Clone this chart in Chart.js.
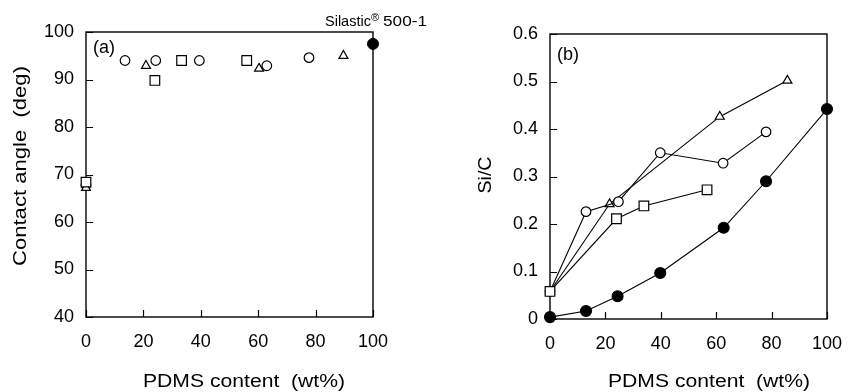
<!DOCTYPE html>
<html>
<head>
<meta charset="utf-8">
<script src="https://cdn.jsdelivr.net/npm/chart.js@4.4.1/dist/chart.umd.min.js"></script>
<style>
  body { margin: 0; background: #fff; }
  #wrap { position: relative; width: 856px; height: 392px; }
  canvas { position: absolute; top: 0; }
  #chartA { left: 0; }
  #chartB { left: 440px; }
</style>
</head>
<body>
<div id="wrap">
  <canvas id="chartA" width="440" height="392"></canvas>
  <canvas id="chartB" width="416" height="392"></canvas>
</div>
<script>
// (a) contact angle vs PDMS content
const circleXA = [0, 13.6, 24.3, 39.5, 63, 77.7];
const circleYA = [67.8, 94, 94, 94, 92.9, 94.6];
const triXA = [0, 20.9, 60.3, 89.7];
const triYA = [67.2, 92.9, 92.3, 95];
const squareXA = [0, 24, 33.3, 56];
const squareYA = [68.4, 89.8, 94, 94];
const silasticXA = [100];
const silasticYA = [97.5];

// (b) Si/C vs PDMS content
const triXB = [0, 21.5, 61.3, 85.7];
const triYB = [0.058, 0.242, 0.426, 0.502];
const circleXB = [0, 13, 24.7, 39.8, 62.5, 78];
const circleYB = [0.058, 0.226, 0.247, 0.35, 0.328, 0.394];
const squareXB = [0, 24, 33.9, 56.7];
const squareYB = [0.058, 0.211, 0.238, 0.272];
const silasticXB = [0, 13, 24.4, 39.8, 62.7, 78, 100];
const silasticYB = [0.004, 0.017, 0.048, 0.097, 0.192, 0.29, 0.442];

const FONT = "'Liberation Sans', Arial, sans-serif";

const pts = (xs, ys) => xs.map((x, i) => ({ x: x, y: ys[i] }));

// box round the plot plus short inward ticks
const frameAndTicks = {
  id: 'frameAndTicks',
  beforeDatasetsDraw(chart) {
    const { ctx, chartArea: a, scales: { x, y } } = chart;
    ctx.save();
    ctx.strokeStyle = '#000';
    ctx.lineWidth = 1.4;
    ctx.strokeRect(a.left, a.top, a.right - a.left, a.bottom - a.top);
    ctx.lineWidth = 1.2;
    ctx.beginPath();
    y.ticks.forEach(t => {
      const py = Math.round(y.getPixelForValue(t.value)) + 0.5;
      ctx.moveTo(a.left, py); ctx.lineTo(a.left + 7, py);
    });
    x.ticks.forEach(t => {
      const px = Math.round(x.getPixelForValue(t.value)) + 0.5;
      ctx.moveTo(px, a.bottom); ctx.lineTo(px, a.bottom - 7);
    });
    ctx.stroke();
    ctx.restore();
  }
};

function drawText(ctx, text, x, y, size, width, angle, align) {
  ctx.save();
  ctx.translate(x, y);
  if (angle) ctx.rotate(angle);
  ctx.font = size + 'px ' + FONT;
  ctx.textAlign = align || 'left';
  ctx.textBaseline = 'alphabetic';
  ctx.fillStyle = '#000';
  const w = ctx.measureText(text).width;
  if (width) ctx.scale(width / w, 1);
  ctx.fillText(text, 0, 0);
  ctx.restore();
}

// titles and labels, positioned per panel
const panelText = {
  id: 'panelText',
  afterDraw(chart, args, o) {
    const ctx = chart.ctx;
    drawText(ctx, o.letter, o.letterX, o.letterY, 18);
    drawText(ctx, o.xTitle, o.xTitleX, 387, 18, o.xTitleW, 0, 'center');
    drawText(ctx, o.yTitle, o.yTitleX, o.yTitleY, 18, o.yTitleW, -Math.PI / 2, 'center');
    if (o.note) {
      drawText(ctx, 'Silastic', 325, 26, 14.5);
      drawText(ctx, '\u00AE', 371, 21, 11);
      drawText(ctx, '500-1', 383, 26, 15.5, 44);
    }
  }
};

const openPoint = (style, r) => ({
  pointStyle: style,
  pointRadius: r,
  pointBackgroundColor: '#fff',
  pointBorderColor: '#000',
  pointBorderWidth: 1.2
});

function makeOptions(yMin, yMax, yStep, yWidth, top, right, text) {
  return {
    responsive: false,
    animation: false,
    layout: { padding: { left: 0, right: right, top: top, bottom: 0 } },
    scales: {
      x: {
        type: 'linear', position: 'bottom', min: 0, max: 100,
        grid: { display: false, drawTicks: false },
        border: { display: false },
        ticks: { stepSize: 20, padding: 14, color: '#000', font: { family: FONT, size: 18 } },
        afterFit(scale) { scale.height = 392 - 317 - (top - 32); }
      },
      y: {
        type: 'linear', position: 'left', min: yMin, max: yMax,
        grid: { display: false, drawTicks: false },
        border: { display: false },
        ticks: { stepSize: yStep, padding: 12, color: '#000', font: { family: FONT, size: 18 } },
        afterFit(scale) { scale.width = yWidth; }
      }
    },
    plugins: {
      legend: { display: false },
      tooltip: { enabled: false },
      panelText: text
    }
  };
}

new Chart(document.getElementById('chartA'), {
  type: 'scatter',
  data: {
    datasets: [
      Object.assign({ data: pts(squareXA, squareYA), clip: false }, openPoint('rect', 6.8)),
      Object.assign({ data: pts(triXA, triYA), clip: false }, openPoint('triangle', 5.2)),
      Object.assign({ data: pts(circleXA, circleYA), clip: false }, openPoint('circle', 4.8)),
      { data: pts(silasticXA, silasticYA), clip: false, pointRadius: 5.5,
        pointBackgroundColor: '#000', pointBorderColor: '#000' }
    ]
  },
  options: makeOptions(40, 100, 10, 86, 32, 440 - 373, {
    letter: '(a)', letterX: 93, letterY: 53,
    xTitle: 'PDMS content  (wt%)', xTitleX: 244, xTitleW: 202,
    yTitle: 'Contact angle  (deg)', yTitleX: 26, yTitleY: 166, yTitleW: 200,
    note: true
  }),
  plugins: [frameAndTicks, panelText]
});

const lined = { showLine: true, borderColor: '#000', borderWidth: 1.1, clip: false };

new Chart(document.getElementById('chartB'), {
  type: 'scatter',
  data: {
    datasets: [
      Object.assign({ data: pts(silasticXB, silasticYB) }, lined,
        { pointRadius: 5.5, pointBackgroundColor: '#000', pointBorderColor: '#000' }),
      Object.assign({ data: pts(squareXB, squareYB) }, lined, openPoint('rect', 6.8)),
      Object.assign({ data: pts(circleXB, circleYB) }, lined, openPoint('circle', 4.8)),
      Object.assign({ data: pts(triXB, triYB) }, lined, openPoint('triangle', 5.2))
    ]
  },
  options: makeOptions(0, 0.6, 0.1, 110, 34, 416 - 397, {
    letter: '(b)', letterX: 117, letterY: 60,
    xTitle: 'PDMS content  (wt%)', xTitleX: 269, xTitleW: 202,
    yTitle: 'Si/C', yTitleX: 51, yTitleY: 175, yTitleW: 37
  }),
  plugins: [frameAndTicks, panelText]
});
</script>
</body>
</html>
